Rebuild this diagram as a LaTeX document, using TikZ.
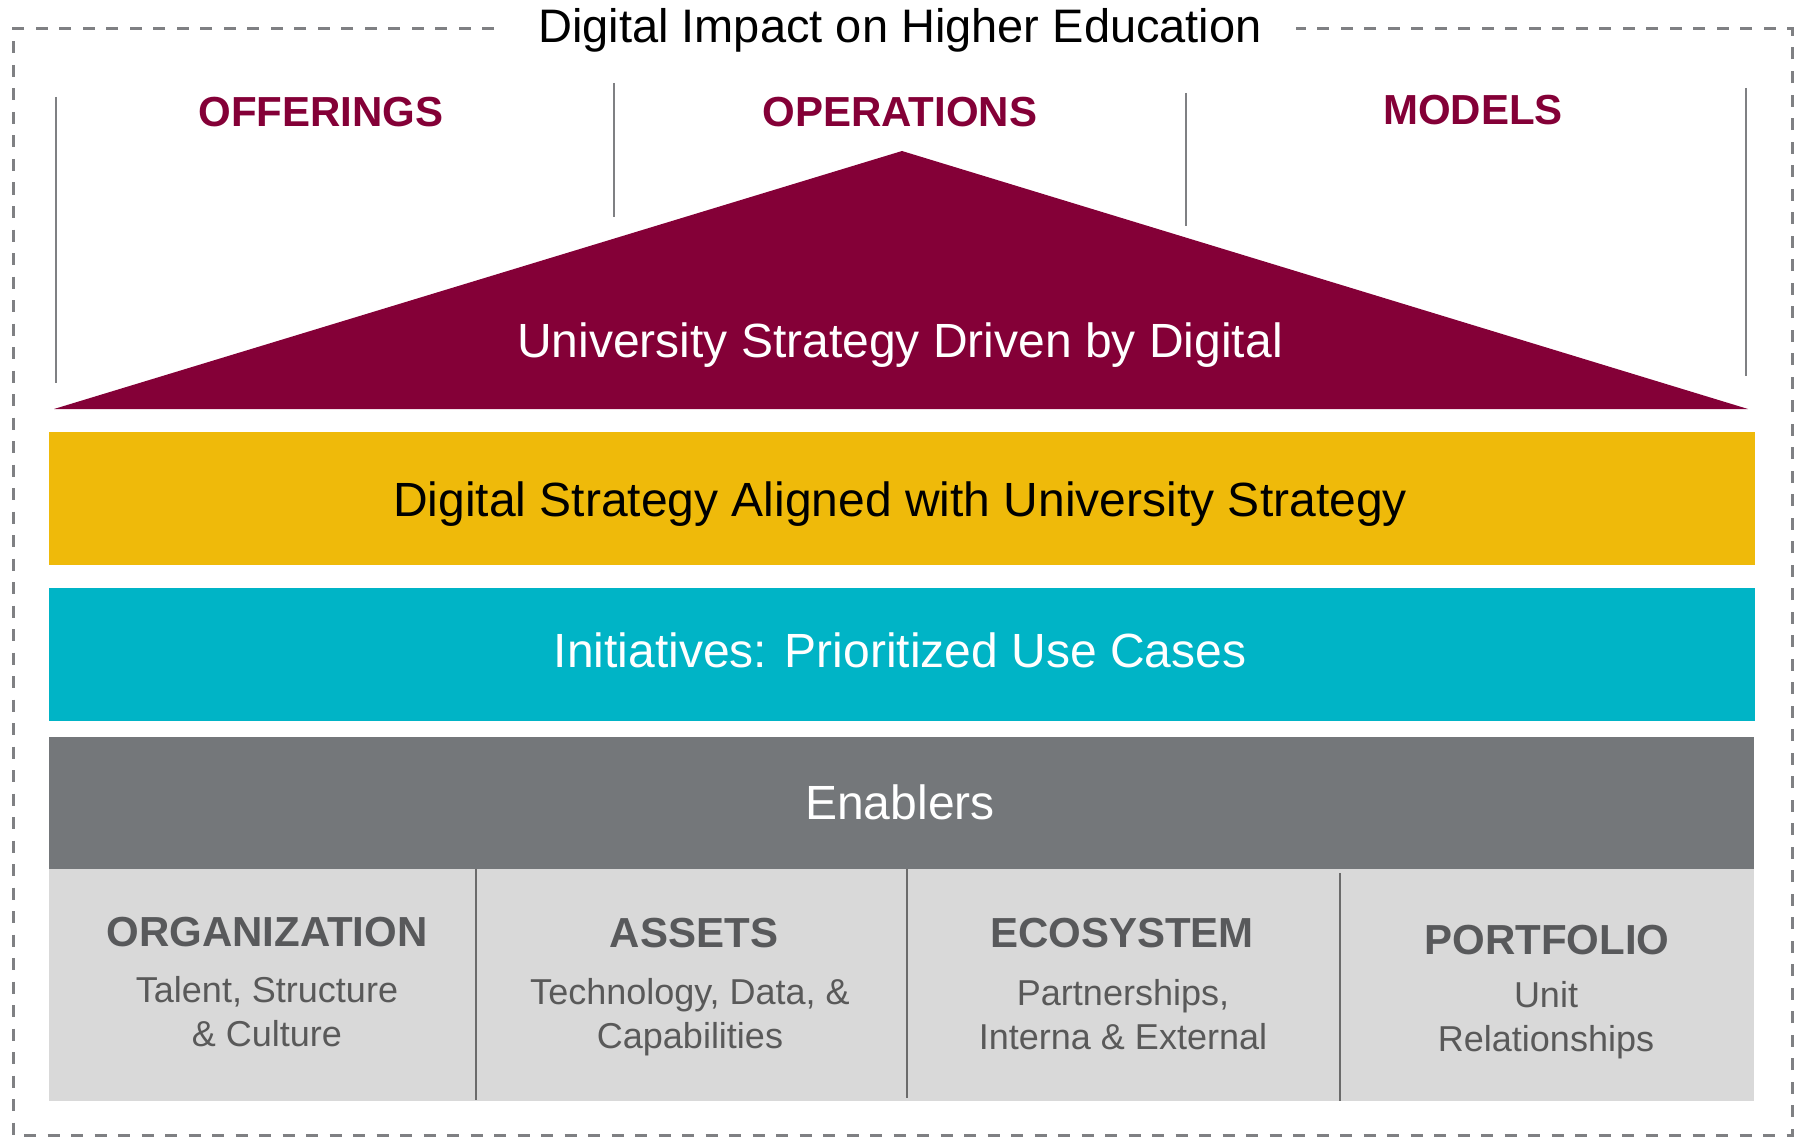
\documentclass[tikz,border=0pt]{standalone}
\usepackage{fontspec}
\setmainfont{Liberation Sans}
\definecolor{maroon}{HTML}{840037}
\definecolor{gold}{HTML}{EFBA0A}
\definecolor{teal}{HTML}{00B4C6}
\definecolor{darkgray}{HTML}{74777A}
\definecolor{lightgray}{HTML}{D9D9D9}
\definecolor{linegray}{HTML}{7F8083}
\definecolor{sepgray}{HTML}{6B6B6B}
\definecolor{headgray}{HTML}{58595B}
\definecolor{subgray}{HTML}{595959}
\begin{document}
\begin{tikzpicture}[x=1pt,y=-1pt,
  frame/.style={draw=linegray,line width=3pt,dash pattern=on 12pt off 11.5pt},
  divline/.style={draw=linegray,line width=2.8pt},
  sepline/.style={draw=sepgray,line width=2.6pt},
  bigtxt/.style={anchor=base,inner sep=0pt,font=\fontsize{48}{48}\selectfont},
  toptxt/.style={anchor=base,inner sep=0pt,text=maroon,font=\fontsize{42}{42}\selectfont\bfseries},
  colhead/.style={anchor=base,inner sep=0pt,text=headgray,font=\fontsize{42}{42}\selectfont\bfseries},
  colsub/.style={anchor=north,inner sep=0pt,text=subgray,align=center,font=\fontsize{36}{44}\selectfont}]
\useasboundingbox (0,0) rectangle (1802,1137);
% outer dashed frame
\draw[frame] (494,29) -- (13,29) -- (13,1135) -- (1792,1135) -- (1792,29) -- (1296,29);
\node[bigtxt,font=\fontsize{47}{47}\selectfont] (title) at (900,43) {Digital Impact on Higher Education};
% vertical dividers
\draw[divline] (56,97) -- (56,383);
\draw[divline] (614,83) -- (614,217);
\draw[divline] (1186,93) -- (1186,226);
\draw[divline] (1746,88) -- (1746,376);
% top labels
\node[toptxt] (offer) at (321,127) {OFFERINGS};
\node[toptxt] (oper) at (900,127) {OPERATIONS};
\node[toptxt] (models) at (1473,125) {MODELS};
% triangle
\fill[maroon] (54,409) -- (902,151) -- (1748,409) -- cycle;
\node[bigtxt,text=white] (univ) at (900,357) {University Strategy Driven by Digital};
% bands
\fill[gold] (49,432) rectangle (1755,565);
\node[bigtxt,text=black] (digital) at (900,516) {Digital Strategy Aligned with University Strategy};
\fill[teal] (49,588) rectangle (1755,721);
\node[bigtxt,text=white] (init) at (900,667) {Initiatives: Prioritized Use Cases};
\fill[darkgray] (49,737) rectangle (1754,869);
\node[bigtxt,text=white] (enab) at (900,819) {Enablers};
\fill[lightgray] (49,869) rectangle (1754,1101);
\draw[sepline] (476,869) -- (476,1100);
\draw[sepline] (907,869) -- (907,1098);
\draw[sepline] (1340,873) -- (1340,1101);
% columns
\node[colhead] (org) at (267,946) {ORGANIZATION};
\node[colsub] (orgs) at (267,976) {Talent, Structure\\\& Culture};
\node[colhead] (assets) at (694,947) {ASSETS};
\node[colsub] (assetss) at (690,978) {Technology, Data, \&\\Capabilities};
\node[colhead] (eco) at (1122,947) {ECOSYSTEM};
\node[colsub] (ecos) at (1123,979) {Partnerships,\\Interna \& External};
\node[colhead] (port) at (1547,954) {PORTFOLIO};
\node[colsub] (ports) at (1546,981) {Unit\\Relationships};
\end{tikzpicture}
\end{document}
